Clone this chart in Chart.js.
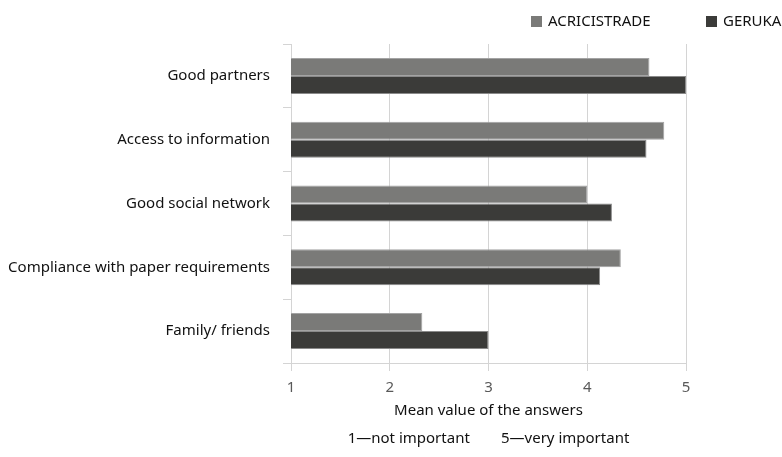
<!DOCTYPE html>
<html>
<head>
<meta charset="utf-8">
<script src="https://cdn.jsdelivr.net/npm/chart.js@4/dist/chart.umd.min.js"></script>
<style>
  html, body { margin: 0; padding: 0; background: #ffffff; }
  #wrap { width: 782px; height: 457px; }
</style>
</head>
<body>
<div id="wrap"><canvas id="c" width="782" height="457"></canvas></div>
<script>
const categories = ['Good partners', 'Access to information', 'Good social network', 'Compliance with paper requirements', 'Family/ friends'];
const seriesNames = ['ACRICISTRADE', 'GERUKA'];
const acricistrade = [4.63, 4.78, 4.0, 4.34, 2.33];
const geruka = [5.0, 4.6, 4.25, 4.13, 3.0];
const xTickValues = [1, 2, 3, 4, 5];
const axisTitleLines = ['Mean value of the answers', '1\u2014not important        5\u2014very important'];

const FONT = "'Noto Sans', 'DejaVu Sans', sans-serif";
Chart.defaults.font.family = FONT;
Chart.defaults.font.size = 15;

const legendPlugin = {
  id: 'topLegend',
  afterDraw(chart) {
    const ctx = chart.ctx;
    const boxX = [531, 706];
    ctx.save();
    ctx.font = '15px ' + FONT;
    ctx.textBaseline = 'middle';
    ctx.textAlign = 'left';
    chart.data.datasets.forEach((ds, i) => {
      ctx.fillStyle = ds.backgroundColor;
      ctx.fillRect(boxX[i], 16, 11, 11);
      ctx.fillStyle = '#111111';
      ctx.fillText(ds.label, boxX[i] + 17, 21.5);
    });
    ctx.restore();
  }
};

new Chart(document.getElementById('c'), {
  type: 'bar',
  data: {
    labels: categories,
    datasets: [
      { label: seriesNames[0], data: acricistrade, backgroundColor: '#7a7a78', borderColor: '#a3a3a3', borderWidth: 1, borderSkipped: 'start' },
      { label: seriesNames[1], data: geruka, backgroundColor: '#3b3b39', borderColor: '#8a8a8a', borderWidth: 1, borderSkipped: 'start' }
    ]
  },
  options: {
    indexAxis: 'y',
    responsive: false,
    animation: false,
    layout: { padding: { top: 44, right: 96, left: 0, bottom: 0 } },
    datasets: { bar: { categoryPercentage: 0.564, barPercentage: 1.0 } },
    plugins: {
      legend: { display: false },
      tooltip: { enabled: false },
      title: { display: false }
    },
    scales: {
      x: {
        type: 'linear',
        min: 1,
        max: 5,
        afterFit: (s) => { s.height = 94; },
        afterBuildTicks: (s) => { s.ticks = xTickValues.map(v => ({ value: v })); },
        ticks: { color: '#595959', padding: 8, font: { size: 15 } },
        grid: { color: '#d4d4d4', lineWidth: 1, drawTicks: true, tickLength: 8 },
        border: { display: true, color: '#d4d4d4', width: 1 },
        title: {
          display: true,
          text: axisTitleLines,
          color: '#111111',
          font: { size: 15, lineHeight: 28 / 15 },
          padding: { top: 0, bottom: 4 }
        }
      },
      y: {
        afterFit: (s) => { s.width = 291; },
        ticks: { color: '#111111', padding: 13, font: { size: 15 } },
        grid: { offset: true, drawOnChartArea: false, drawTicks: true, tickLength: 8, color: '#d4d4d4' },
        border: { display: true, color: '#d4d4d4', width: 1 }
      }
    }
  },
  plugins: [legendPlugin]
});
</script>
</body>
</html>
